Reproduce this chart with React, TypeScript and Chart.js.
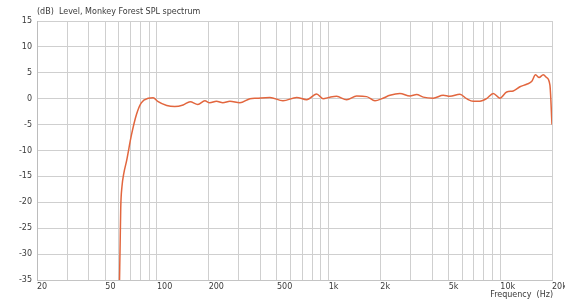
import React, { useEffect, useRef } from "react";
import { Chart, registerables } from "chart.js";

Chart.register(...registerables);

const titleText = "(dB)  Level, Monkey Forest SPL spectrum";
const xAxisTitle = "Frequency  (Hz)";

const freqs = [
  60.5, 61, 61.5, 62.5, 64, 66.5, 71, 76, 81, 89,
  95, 101, 114, 127, 142, 156, 173, 190, 203, 222,
  242, 266, 304, 348, 381, 455, 542, 651, 745, 851,
  927, 1019, 1113, 1273, 1456, 1664, 1862, 2071, 2275, 2600,
  2974, 3253, 3556, 4065, 4647, 5083, 5815, 6363, 6951, 7604,
  8316, 9096, 9948, 10890, 11890, 13010, 14230, 15210, 16040, 16830,
  17780, 18580, 19450, 20000,
];

const levels = [
  -35, -28, -21, -17, -14.5, -12, -7, -3, -0.8, 0.1,
  0.2, -0.5, -1.3, -1.5, -1.2, -0.6, -1.1, -0.4, -0.8, -0.5,
  -0.8, -0.5, -0.8, 0, 0.1, 0.25, -0.4, 0.25, -0.2, 0.9,
  0, 0.3, 0.45, -0.2, 0.5, 0.4, -0.4, 0.1, 0.65, 1.0,
  0.5, 0.8, 0.3, 0.1, 0.65, 0.45, 0.85, 0, -0.5, -0.5,
  0, 1.0, 0.1, 1.3, 1.5, 2.3, 2.8, 3.3, 4.6, 4.1,
  4.6, 4.1, 2.6, -5,
];

const gridFreqs = [
  20, 30, 40, 50, 60, 70, 80, 90,
  100, 200, 300, 400, 500, 600, 700, 800, 900,
  1000, 2000, 3000, 4000, 5000, 6000, 7000, 8000, 9000,
  10000, 20000,
];

const xTickValues = [20, 50, 100, 200, 500, 1000, 2000, 5000, 10000, 20000];
const xTickLabels = ["20", "50", "100", "200", "500", "1k", "2k", "5k", "10k", "20k"];

const yMin = -35;
const yMax = 15;
const yStep = 5;

const FONT = "'DejaVu Sans', Verdana, sans-serif";

export default function App() {
  const ref = useRef<HTMLCanvasElement | null>(null);

  useEffect(() => {
    const canvas = ref.current;
    if (!canvas) return;

    const textPlugin = {
      id: "textPlugin",
      afterDraw(chart: any) {
        const { ctx, chartArea } = chart;
        ctx.save();
        ctx.fillStyle = "#3a3a3a";
        ctx.font = `8px ${FONT}`;
        ctx.textBaseline = "middle";
        ctx.textAlign = "left";
        ctx.fillText(titleText, chartArea.left, 12);
        ctx.textAlign = "right";
        ctx.fillText(xAxisTitle, chartArea.right + 1, 295);
        ctx.restore();
      },
    };

    const chart = new Chart(canvas, {
      type: "line",
      data: {
        datasets: [
          {
            data: freqs.map((f, i) => ({ x: f, y: levels[i] })),
            borderColor: "#e2663e",
            borderWidth: 1.5,
            pointRadius: 0,
            fill: false,
            cubicInterpolationMode: "monotone",
          },
        ],
      },
      options: {
        animation: false,
        responsive: false,
        layout: { padding: { top: 21, right: 13, left: 0, bottom: 0 } },
        plugins: {
          legend: { display: false },
          tooltip: { enabled: false },
          title: { display: false },
        },
        scales: {
          x: {
            type: "logarithmic",
            min: 20,
            max: 20000,
            afterBuildTicks: (scale: any) => {
              scale.ticks = gridFreqs.map((v) => ({ value: v }));
            },
            afterFit: (scale: any) => {
              scale.height = 24;
              scale.paddingLeft = 0;
              scale.paddingRight = 0;
            },
            grid: { color: "#cfcfcf", lineWidth: 1, drawTicks: false },
            border: { color: "#c4c4c4" },
            ticks: {
              autoSkip: false,
              maxRotation: 0,
              minRotation: 0,
              align: "start",
              padding: 2,
              color: "#3a3a3a",
              font: { family: FONT, size: 8 },
              callback: (value: any) => {
                const idx = xTickValues.indexOf(Number(value));
                return idx >= 0 ? xTickLabels[idx] : "";
              },
            },
          },
          y: {
            min: yMin,
            max: yMax,
            afterFit: (scale: any) => {
              scale.width = 37;
              scale.paddingTop = 0;
              scale.paddingBottom = 0;
            },
            grid: { color: "#cfcfcf", lineWidth: 1, drawTicks: false },
            border: { color: "#bcbcbc" },
            ticks: {
              stepSize: yStep,
              padding: 5,
              color: "#3a3a3a",
              font: { family: FONT, size: 8 },
            },
          },
        },
      },
      plugins: [textPlugin],
    } as any);

    return () => chart.destroy();
  }, []);

  return (
    <div style={{ position: "absolute", left: 0, top: 0, width: 578, height: 304, background: "#fff" }}>
      <canvas ref={ref} width={565} height={304} style={{ display: "block" }} />
    </div>
  );
}
